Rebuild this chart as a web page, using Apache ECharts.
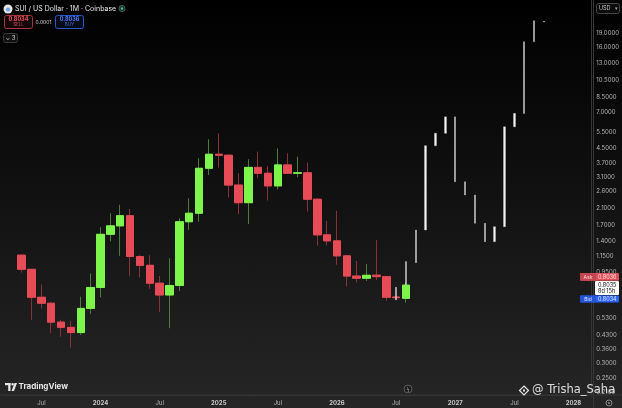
<!DOCTYPE html>
<html><head><meta charset="utf-8">
<script src="https://cdn.jsdelivr.net/npm/echarts@6/dist/echarts.min.js"></script>
<style>
html,body{margin:0;padding:0;background:#000;}
#c{width:622px;height:408px;background:linear-gradient(to bottom,#000000 0%,#101010 45%,#262626 100%);}
</style>
</head><body><div id="c"></div>
<script>
// ---- axis months (Apr 2023 .. Feb 2028) ----
const axisFirstYear = 2023, axisFirstMonth = 4, monthCount = 59;
// ---- monthly candles, starting May 2023 ----
const candleStart = '2023-05';
const candleOpen  = [1.17,0.98,0.69,0.64,0.505,0.473,0.443,0.60,0.78,1.52,1.69,1.92,1.15,1.03,0.823,0.71,0.80,1.78,1.98,3.48,4.15,4.10,2.82,2.26,3.52,3.27,2.79,3.63,3.27,3.29,2.36,1.51,1.40,1.16,0.90,0.876,0.91,0.894,0.692,0.681];
const candleClose = [0.98,0.69,0.64,0.505,0.473,0.443,0.60,0.78,1.52,1.69,1.92,1.15,1.03,0.823,0.71,0.80,1.78,1.98,3.48,4.15,4.10,2.82,2.26,3.52,3.27,2.79,3.63,3.27,3.29,2.36,1.51,1.40,1.16,0.90,0.876,0.909,0.894,0.69,0.686,0.8035];
const candleLow   = [0.94,0.52,0.60,0.44,0.42,0.367,0.43,0.56,0.69,1.39,1.16,0.90,0.886,0.766,0.574,0.468,0.747,1.605,1.78,3.20,3.51,2.42,1.96,1.73,3.07,2.32,2.67,3.24,3.11,2.02,1.32,1.32,1.035,0.79,0.829,0.847,0.857,0.661,0.672,0.644];
const candleHigh  = [1.18,0.98,0.81,0.65,0.52,0.513,0.695,0.93,1.66,1.98,2.20,2.09,1.17,1.17,0.901,1.126,1.86,2.39,3.95,5.01,5.40,4.12,3.27,3.90,4.29,3.58,4.47,4.20,4.03,3.73,2.39,1.80,2.04,1.17,1.088,1.048,1.416,0.901,0.705,0.83];
// ---- projected path (white bars), starting Jul 2026 ----
const projStart = '2026-07';
const projFrom = [0.667,0.806,1.065,1.605,4.62,5.40,6.64,2.94,2.49,1.746,1.386,1.672,5.86,6.93,17.04,21.8];
const projTo   = [0.782,1.079,1.605,4.62,5.40,6.64,2.94,2.49,1.746,1.386,1.672,5.86,6.93,17.04,22.17,22.0];
// ---- price scale labels ----
const priceTicks = [19,16,13,10.5,8.5,7,5.5,4.5,3.7,3.1,2.6,2.1,1.7,1.4,1.15,0.95,0.53,0.43,0.36,0.30,0.25,0.21];
const lastPrice = 0.8035, askPrice = 0.8036, bidPrice = 0.8034, spread = 0.0001;
const countdown = '8d 15h';

const categories = [];
for (let i = 0; i < monthCount; i++) {
  const t = axisFirstMonth - 1 + i;
  const y = axisFirstYear + Math.floor(t / 12), m = t % 12 + 1;
  categories.push(y + '-' + String(m).padStart(2, '0'));
}
const cOff = categories.indexOf(candleStart);
const pOff = categories.indexOf(projStart);
const wickData = categories.map((c, i) => {
  const k = i - cOff;
  return (k >= 0 && k < candleOpen.length) ? [candleOpen[k], candleClose[k], candleLow[k], candleHigh[k]] : '-';
});
const bodyData = categories.map((c, i) => {
  const k = i - cOff;
  if (k < 0 || k >= candleOpen.length) return '-';
  const o = candleOpen[k], cl = candleClose[k];
  return [o, cl, Math.min(o, cl), Math.max(o, cl)];
});
const projData = categories.map((c, i) => {
  const k = i - pOff;
  if (k < 0 || k >= projFrom.length) return '-';
  const a = projFrom[k], b = projTo[k];
  return [a, b, Math.min(a, b), Math.max(a, b)];
});

const FONT = 'Inter, "Noto Sans", sans-serif';
const chart = echarts.init(document.getElementById('c'), null, {renderer: 'canvas'});
const option = {
  backgroundColor: 'transparent',
  animation: false,
  grid: {left: 6.9, right: 31.8, top: 0, bottom: 13, containLabel: false},
  xAxis: {
    type: 'category', data: categories, boundaryGap: true,
    axisLine: {show: true, lineStyle: {color: '#363636'}},
    axisTick: {show: false}, splitLine: {show: false},
    axisLabel: {
      interval: 0, margin: 5, color: '#b5b5b5', fontSize: 6, fontFamily: FONT,
      formatter: v => { const p = v.split('-'); return p[1] === '01' ? '{y|' + p[0] + '}' : (p[1] === '07' ? 'Jul' : ''); },
      rich: {y: {fontWeight: 'bold', color: '#c8c8c8', fontSize: 6, fontFamily: FONT}}
    }
  },
  yAxis: {
    type: 'log', logBase: 10, min: 0.2024, max: 28.75, position: 'right', offset: 3,
    axisLine: {show: true, lineStyle: {color: '#363636'}},
    axisTick: {show: false}, splitLine: {show: false},
    axisLabel: {customValues: priceTicks, formatter: v => Number(v).toFixed(4), color: '#b5b5b5', fontSize: 6, margin: 5, fontFamily: FONT}
  },
  series: [
    {type: 'candlestick', name: 'wick', data: wickData, barWidth: 8,
     itemStyle: {color: '#4b7d3a', color0: '#8a3039', borderColor: '#4b7d3a', borderColor0: '#8a3039', borderWidth: 1}},
    {type: 'candlestick', name: 'body', data: bodyData, barWidth: 8,
     itemStyle: {color: '#7ef54b', color0: '#e64b56', borderColor: '#7ef54b', borderColor0: '#e64b56', borderWidth: 1}},
    {type: 'candlestick', name: 'projection', data: projData, barWidth: 2, z: 3,
     itemStyle: {color: '#f2f2f2', color0: '#f2f2f2', borderColor: '#c4c4c4', borderColor0: '#c4c4c4', borderWidth: 0.4}}
  ]
};
chart.setOption(option);

// ---- overlays: header, price labels, branding ----
const py = chart.convertToPixel({yAxisIndex: 0}, lastPrice);
const g = [
  // separators
  {type: 'line', shape: {x1: 0, y1: 395, x2: 622, y2: 395}, style: {stroke: '#363636', lineWidth: 1}},
  {type: 'line', shape: {x1: 593.5, y1: 0, x2: 593.5, y2: 408}, style: {stroke: '#363636', lineWidth: 1}},
  // header
  {type: 'circle', shape: {cx: 8, cy: 9, r: 4.5}, style: {fill: '#e6e6e6'}},
  {type: 'circle', shape: {cx: 8, cy: 9.5, r: 2}, style: {fill: '#6aa0e8'}},
  {type: 'text', x: 15, y: 9, style: {text: 'SUI / US Dollar · 1M · Coinbase', fill: '#e8e8e8', font: '7px ' + FONT, textVerticalAlign: 'middle'}},
  {type: 'circle', shape: {cx: 122, cy: 8.5, r: 3}, style: {fill: '#1c2a26', stroke: '#3d6a5a', lineWidth: 1}},
  {type: 'circle', shape: {cx: 122, cy: 8.5, r: 1.2}, style: {fill: '#46c08a'}},
  {type: 'rect', shape: {x: 4.5, y: 15.5, width: 28, height: 13, r: 2}, style: {fill: '#140707', stroke: '#a8343c', lineWidth: 1}},
  {type: 'text', x: 18.5, y: 19.5, style: {text: bidPrice.toFixed(4), fill: '#f0505c', font: 'bold 5.5px ' + FONT, textAlign: 'center', textVerticalAlign: 'middle'}},
  {type: 'text', x: 18.5, y: 25, style: {text: 'SELL', fill: '#d0505a', font: '4.5px ' + FONT, textAlign: 'center', textVerticalAlign: 'middle'}},
  {type: 'text', x: 43.5, y: 22, style: {text: spread.toFixed(4), fill: '#cfcfcf', font: '5px ' + FONT, textAlign: 'center', textVerticalAlign: 'middle'}},
  {type: 'rect', shape: {x: 55.5, y: 15.5, width: 28, height: 13, r: 2}, style: {fill: '#070b16', stroke: '#2d57c8', lineWidth: 1}},
  {type: 'text', x: 69.5, y: 19.5, style: {text: askPrice.toFixed(4), fill: '#4a7cff', font: 'bold 5.5px ' + FONT, textAlign: 'center', textVerticalAlign: 'middle'}},
  {type: 'text', x: 69.5, y: 25, style: {text: 'BUY', fill: '#3f6be0', font: '4.5px ' + FONT, textAlign: 'center', textVerticalAlign: 'middle'}},
  {type: 'rect', shape: {x: 3.5, y: 33.5, width: 14, height: 9, r: 2}, style: {fill: '#111', stroke: '#3a3a3a', lineWidth: 1}},
  {type: 'text', x: 10.5, y: 38, style: {text: '⌄ 3', fill: '#d0d0d0', font: '6px ' + FONT, textAlign: 'center', textVerticalAlign: 'middle'}},
  // USD box
  {type: 'rect', shape: {x: 596.5, y: 3.5, width: 23, height: 10, r: 2}, style: {fill: '#0d0d0d', stroke: '#444', lineWidth: 1}},
  {type: 'text', x: 599, y: 8.7, style: {text: 'USD', fill: '#c8c8c8', font: '5.5px ' + FONT, textVerticalAlign: 'middle'}},
  {type: 'text', x: 616, y: 8.7, style: {text: '▾', fill: '#aaa', font: '5px ' + FONT, textAlign: 'center', textVerticalAlign: 'middle'}},
  // price labels on scale
  {type: 'rect', shape: {x: 580, y: py - 12, width: 39, height: 7.7, r: 1}, style: {fill: '#e0505a'}},
  {type: 'rect', shape: {x: 580, y: py - 12, width: 16, height: 7.7, r: 1}, style: {fill: '#c24550'}},
  {type: 'text', x: 588, y: py - 8, style: {text: 'Ask', fill: '#ffd6d9', font: '5px ' + FONT, textAlign: 'center', textVerticalAlign: 'middle'}},
  {type: 'text', x: 598, y: py - 8, style: {text: askPrice.toFixed(4), fill: '#ffdfe1', font: '5.5px ' + FONT, textVerticalAlign: 'middle'}},
  {type: 'rect', shape: {x: 595, y: py - 4.2, width: 24, height: 14, r: 1}, style: {fill: '#ffffff'}},
  {type: 'text', x: 598, y: py + 0.3, style: {text: lastPrice.toFixed(4), fill: '#111', font: '5.5px ' + FONT, textVerticalAlign: 'middle'}},
  {type: 'text', x: 598, y: py + 6.2, style: {text: countdown, fill: '#111', font: '5.5px ' + FONT, textVerticalAlign: 'middle'}},
  {type: 'rect', shape: {x: 580, y: py + 10.5, width: 39, height: 6.8, r: 1}, style: {fill: '#2962ff'}},
  {type: 'rect', shape: {x: 580, y: py + 10.5, width: 16, height: 6.8, r: 1}, style: {fill: '#2553d6'}},
  {type: 'text', x: 588, y: py + 14, style: {text: 'Bid', fill: '#d8e2ff', font: '5px ' + FONT, textAlign: 'center', textVerticalAlign: 'middle'}},
  {type: 'text', x: 598, y: py + 14, style: {text: bidPrice.toFixed(4), fill: '#e0e8ff', font: '5.5px ' + FONT, textVerticalAlign: 'middle'}},
  // TradingView branding
  {type: 'rect', shape: {x: 5, y: 383, width: 5.5, height: 2.2}, style: {fill: '#e6e6e6'}},
  {type: 'rect', shape: {x: 8.2, y: 383, width: 2.3, height: 8}, style: {fill: '#e6e6e6'}},
  {type: 'circle', shape: {cx: 12.6, cy: 384.3, r: 1.3}, style: {fill: '#e6e6e6'}},
  {type: 'polygon', shape: {points: [[11.5, 391], [14.5, 383], [17, 383], [14, 391]]}, style: {fill: '#e6e6e6'}},
  {type: 'text', x: 18.5, y: 387, style: {text: 'TradingView', fill: '#e6e6e6', font: 'bold 8px ' + FONT, textVerticalAlign: 'middle'}},
  {type: 'circle', shape: {cx: 408, cy: 389, r: 4}, style: {fill: '#1e1e1e', stroke: '#5a5a5a', lineWidth: 1}},
  {type: 'text', x: 408, y: 389, style: {text: 'ϟ', fill: '#999', font: '5px ' + FONT, textAlign: 'center', textVerticalAlign: 'middle'}},
  // watermark
  {type: 'polygon', shape: {points: [[524, 386], [528.5, 390.5], [524, 395], [519.5, 390.5]]}, style: {fill: 'none', stroke: '#e8e8e8', lineWidth: 1.2}},
  {type: 'rect', shape: {x: 523, y: 389.5, width: 2, height: 2}, style: {fill: '#e8e8e8'}},
  {type: 'text', x: 532, y: 390.5, style: {text: '@ Trisha_Saha', fill: 'rgba(235,235,235,0.92)', font: '11.5px "DejaVu Sans", sans-serif', textVerticalAlign: 'middle'}},
  {type: 'circle', shape: {cx: 609, cy: 403, r: 3}, style: {fill: 'none', stroke: '#8a8a8a', lineWidth: 1}},
  {type: 'circle', shape: {cx: 609, cy: 403, r: 1}, style: {fill: '#8a8a8a'}}
];
chart.setOption({graphic: {elements: g.map(e => Object.assign({z: 100}, e))}});
</script>
</body></html>
